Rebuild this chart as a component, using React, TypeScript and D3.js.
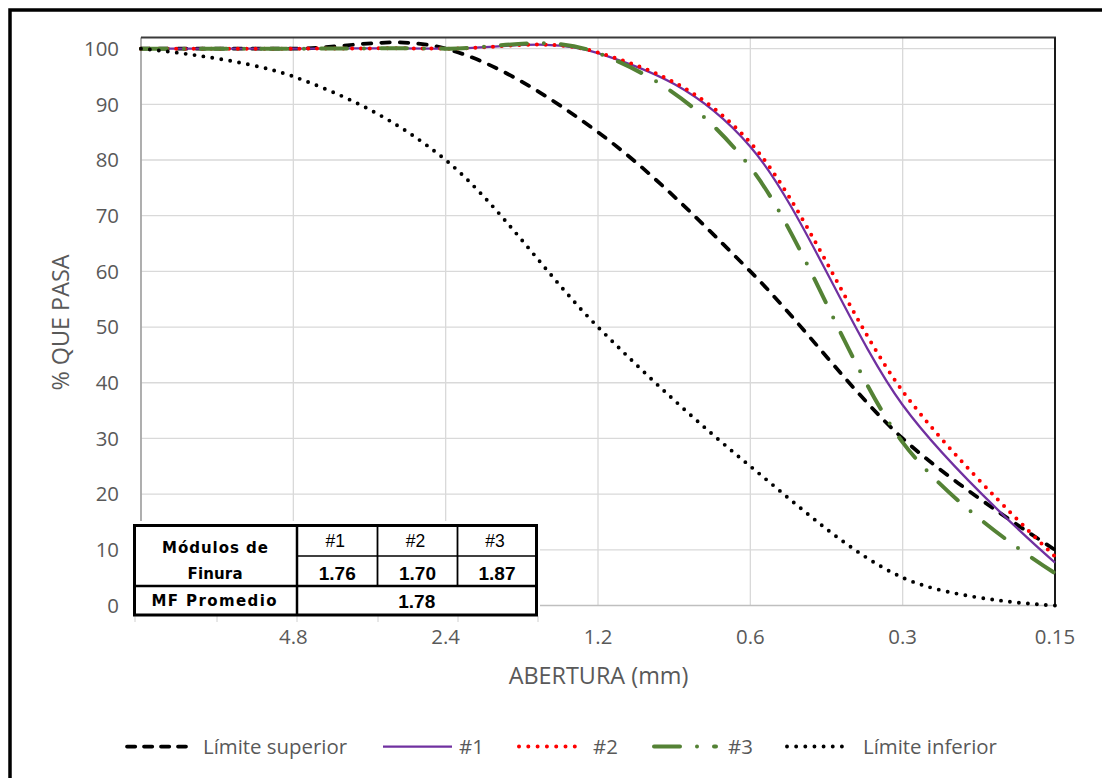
import React from "react";
import * as d3 from "d3";

// ---- data ----
const sieveOpenings = ["9.5", "4.8", "2.4", "1.2", "0.6", "0.3", "0.15"];
const sieveTickLabels = ["", "4.8", "2.4", "1.2", "0.6", "0.3", "0.15"];
const yTicks = [0, 10, 20, 30, 40, 50, 60, 70, 80, 90, 100];

const limiteSuperior = [100, 100, 100, 85, 60, 30, 10];
const muestra1 = [100, 100, 100, 99.2, 82.4, 36, 7.7];
const muestra2 = [100, 100, 100, 99.3, 83.1, 38.5, 8.8];
const muestra3 = [100, 100, 100, 99.2, 78.7, 29.3, 5.8];
const limiteInferior = [100, 95, 80, 50, 25, 5, 0];

const seriesNames = ["Límite superior", "#1", "#2", "#3", "Límite inferior"];

const tableSamples = ["#1", "#2", "#3"];
const tableModulos = ["1.76", "1.70", "1.87"];
const tableAverage = "1.78";

// ---- styles ----
const styles = [
  { color: "#000000", width: 3.75, dash: "8.5 10", cap: "round", legendDash: "8.25 8.75" },
  { color: "#7030A0", width: 2.25, dash: "none", cap: "butt", legendDash: "none" },
  { color: "#FF0000", width: 4, dash: "0 8.8", cap: "round", legendDash: "0 9.3" },
  { color: "#548235", width: 4, dash: "26 17 0 17", cap: "round", legendDash: "26 17 0 17" },
  { color: "#000000", width: 3.9, dash: "0 9", cap: "round", legendDash: "0 9.15" },
];

const W = 1102;
const H = 778;
const L = 141;
const R = 1055;
const T = 37.5;
const B = 605.5;

const FONT = "'Open Sans', sans-serif";
const TXT = "#595959";

export default function App() {
  const x = d3.scalePoint<string>().domain(sieveOpenings).range([L, R]);
  const y = d3.scaleLinear().domain([0, 102]).range([B, T]);

  const allSeries = [limiteSuperior, muestra1, muestra2, muestra3, limiteInferior];
  const line = d3
    .line<number>()
    .x((_, i) => x(sieveOpenings[i]) as number)
    .y((d) => y(d))
    .curve(d3.curveCardinal.tension(0));

  const legendItems = [
    { x1: 127, x2: 186, tx: 203 },
    { x1: 383, x2: 452, tx: 459 },
    { x1: 519, x2: 580, tx: 593 },
    { x1: 654, x2: 716, tx: 728 },
    { x1: 787, x2: 847, tx: 863 },
  ];
  const legendY = 746.5;

  // table layout
  const tx0 = 134.5, tc1 = 297, tc2 = 377.5, tc3 = 457.5, tx4 = 536.5;
  const ty0 = 525.5, tr1 = 556, tr2 = 586, ty3 = 615;
  const colCenters = [(tc1 + tc2) / 2, (tc2 + tc3) / 2, (tc3 + tx4) / 2];
  const cellGridX = [135, 217, 297, 378, 458, 538];

  return (
    <svg
      width={W}
      height={H}
      style={{ position: "absolute", left: 0, top: 0, background: "#fff" }}
    >
      <rect x={0} y={0} width={W} height={H} fill="#fff" />
      {/* outer border */}
      <rect x={10} y={10} width={1110} height={790} fill="none" stroke="#000" strokeWidth={3.5} />

      {/* horizontal gridlines */}
      {yTicks.filter((t) => t > 0).map((t) => (
        <line key={"gy" + t} x1={L} x2={R} y1={y(t)} y2={y(t)} stroke="#d9d9d9" strokeWidth={1.3} />
      ))}
      {/* vertical gridlines */}
      {sieveOpenings.slice(1).map((s) => (
        <line key={"gx" + s} x1={x(s)} x2={x(s)} y1={T} y2={B} stroke="#d9d9d9" strokeWidth={1.3} />
      ))}
      {/* axes */}
      <line x1={L} x2={L} y1={T} y2={B} stroke="#a6a6a6" strokeWidth={1.8} />
      <line x1={L} x2={R} y1={B} y2={B} stroke="#bfbfbf" strokeWidth={1.5} />
      <line x1={L} x2={R + 1} y1={T} y2={T} stroke="#3a3a3a" strokeWidth={2} />
      <line x1={R} x2={R} y1={T} y2={B + 1} stroke="#1a1a1a" strokeWidth={2} />

      {/* y tick labels */}
      {yTicks.map((t) => (
        <text key={"yl" + t} x={119} y={y(t) + 7.2} textAnchor="end" fontFamily={FONT} fontSize={20.4} fill={TXT}>
          {t}
        </text>
      ))}
      {/* x tick labels */}
      {sieveOpenings.map((s, i) => (
        <text key={"xl" + s} x={x(s)} y={643.5} textAnchor="middle" fontFamily={FONT} fontSize={20.4} fill={TXT}>
          {sieveTickLabels[i]}
        </text>
      ))}
      {/* axis titles */}
      <text x={598.5} y={684} textAnchor="middle" fontFamily={FONT} fontSize={23.4} fill={TXT}>
        ABERTURA (mm)
      </text>
      <text
        transform={`translate(69,322.5) rotate(-90)`}
        textAnchor="middle"
        fontFamily={FONT}
        fontSize={23.4}
        fill={TXT}
      >
        % QUE PASA
      </text>

      {/* series */}
      {allSeries.map((vals, i) => (
        <path
          key={"s" + i}
          d={line(vals) as string}
          fill="none"
          stroke={styles[i].color}
          strokeWidth={styles[i].width}
          strokeDasharray={styles[i].dash}
          strokeLinecap={styles[i].cap as any}
          strokeLinejoin="round"
        />
      ))}

      {/* legend */}
      {seriesNames.map((name, i) => (
        <g key={"lg" + i}>
          <line
            x1={legendItems[i].x1}
            x2={legendItems[i].x2}
            y1={legendY}
            y2={legendY}
            stroke={styles[i].color}
            strokeWidth={styles[i].width}
            strokeDasharray={styles[i].legendDash}
            strokeLinecap={styles[i].cap as any}
          />
          <text x={legendItems[i].tx} y={legendY + 7.4} fontFamily={FONT} fontSize={20.4} fill={TXT}>
            {name}
          </text>
        </g>
      ))}

      {/* fineness modulus table (pasted picture) */}
      <rect x={124} y={521} width={416} height={98} fill="#fff" />
      {cellGridX.map((cx) => (
        <line key={"cg" + cx} x1={cx} x2={cx} y1={616} y2={622} stroke="#d0d0d0" strokeWidth={1} />
      ))}
      <rect x={tx0} y={ty0} width={tx4 - tx0} height={ty3 - ty0} fill="#fff" stroke="#000" strokeWidth={3} />
      <line x1={tc1} x2={tc1} y1={ty0} y2={ty3} stroke="#000" strokeWidth={2.5} />
      <line x1={tc2} x2={tc2} y1={ty0} y2={tr2} stroke="#000" strokeWidth={1.8} />
      <line x1={tc3} x2={tc3} y1={ty0} y2={tr2} stroke="#000" strokeWidth={1.8} />
      <line x1={tc1} x2={tx4} y1={tr1} y2={tr1} stroke="#000" strokeWidth={1.6} />
      <line x1={tx0} x2={tx4} y1={tr2} y2={tr2} stroke="#000" strokeWidth={2.6} />

      <g fontFamily="'DejaVu Sans', sans-serif" fontWeight="bold" fontSize={15} fill="#000">
        <text x={215} y={553} textAnchor="middle" textLength={106} lengthAdjust="spacing">
          Módulos de
        </text>
        <text x={215} y={578.5} textAnchor="middle" textLength={55} lengthAdjust="spacing">
          Finura
        </text>
        <text x={214} y={606} textAnchor="middle" textLength={125} lengthAdjust="spacing">
          MF Promedio
        </text>
      </g>
      {tableSamples.map((s, i) => (
        <text
          key={"th" + s}
          x={colCenters[i] - 2}
          y={546.5}
          textAnchor="middle"
          fontFamily="'Liberation Sans', Arial, sans-serif"
          fontSize={17.5}
          fill="#000"
        >
          {s}
        </text>
      ))}
      {tableModulos.map((m, i) => (
        <text
          key={"tm" + i}
          x={colCenters[i]}
          y={580}
          textAnchor="middle"
          fontFamily="'Liberation Sans', Arial, sans-serif"
          fontWeight="bold"
          fontSize={19}
          fill="#000"
        >
          {m}
        </text>
      ))}
      <text
        x={(tc1 + tx4) / 2}
        y={608}
        textAnchor="middle"
        fontFamily="'Liberation Sans', Arial, sans-serif"
        fontWeight="bold"
        fontSize={19}
        fill="#000"
      >
        {tableAverage}
      </text>
    </svg>
  );
}
